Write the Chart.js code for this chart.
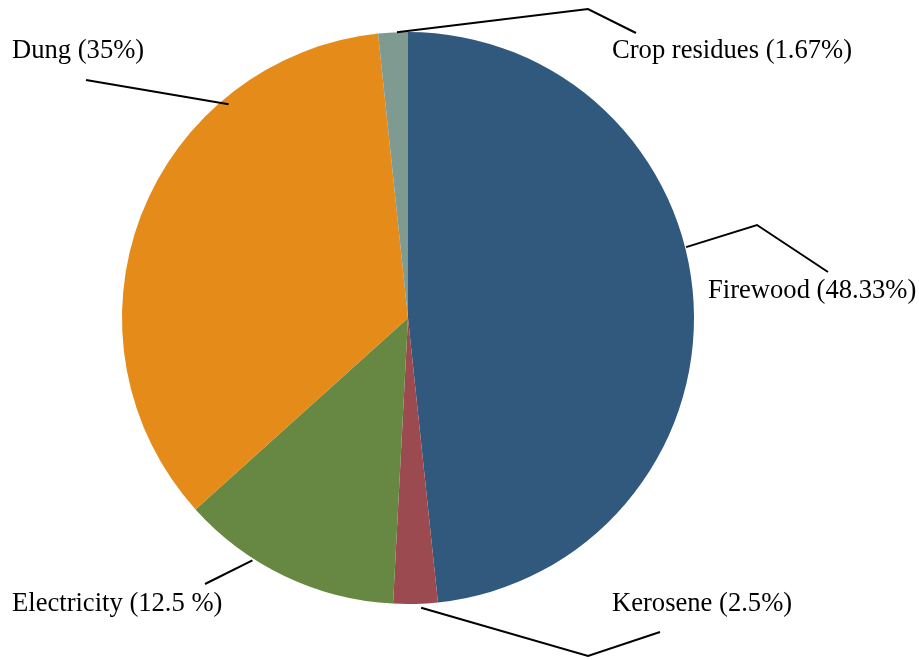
<!DOCTYPE html>
<html>
<head>
<meta charset="utf-8">
<script src="https://cdn.jsdelivr.net/npm/chart.js@4.4.0/dist/chart.umd.min.js"></script>
<style>
    html, body { margin: 0; padding: 0; background: #fff; }
    #wrap { width: 919px; height: 660px; position: relative; }
</style>
</head>
<body>
<div id="wrap"><canvas id="energyChart"></canvas></div>
<script>
// Household cooking fuel shares (%)
const categories = ['Firewood', 'Kerosene', 'Electricity', 'Dung', 'Crop residues'];
const shares = [48.33, 2.5, 12.5, 35, 1.67];
const labelTexts = ['Firewood (48.33%)', 'Kerosene (2.5%)', 'Electricity (12.5 %)', 'Dung (35%)', 'Crop residues (1.67%)'];
const sliceColors = ['#31597d', '#9b4a50', '#678842', '#e58b1a', '#7f9b91'];

// leader line layout: anchor angle on the rim (deg clockwise from top),
// radial offset from the rim, elbow / end points and text position (canvas px)
const leaderLayout = [
    { anchor: 75.7, off: 1, pts: [[757, 225], [828, 272]], text: [708, 298] },
    { anchor: 177.4, off: 4, pts: [[588, 656], [660, 632]], text: [612, 611] },
    { anchor: 212.7, off: 2, pts: [[205, 584]], text: [12, 611] },
    { anchor: 320, off: -7, pts: [[86, 80]], text: [12, 58] },
    { anchor: 357.8, off: 0, pts: [[588, 9], [636, 33]], text: [612, 58] }
];

const leaderPlugin = {
    id: 'leaders',
    afterDatasetsDraw(chart) {
        const ctx = chart.ctx;
        const arc = chart.getDatasetMeta(0).data[0];
        const cx = arc.x, cy = arc.y, r = arc.outerRadius;
        ctx.save();
        ctx.strokeStyle = '#000';
        ctx.lineWidth = 2;
        ctx.fillStyle = '#000';
        ctx.font = '26.6px "Liberation Serif", "Times New Roman", serif';
        ctx.textBaseline = 'alphabetic';
        ctx.textAlign = 'left';
        leaderLayout.forEach((l, i) => {
            const a = l.anchor * Math.PI / 180;
            const rr = r + l.off;
            ctx.beginPath();
            ctx.moveTo(cx + rr * Math.sin(a), cy - rr * Math.cos(a));
            l.pts.forEach(p => ctx.lineTo(p[0], p[1]));
            ctx.stroke();
            ctx.fillText(labelTexts[i], l.text[0], l.text[1]);
        });
        ctx.restore();
    }
};

new Chart(document.getElementById('energyChart'), {
    type: 'pie',
    data: {
        labels: categories,
        datasets: [{
            data: shares,
            backgroundColor: sliceColors,
            borderWidth: 0
        }]
    },
    options: {
        responsive: true,
        maintainAspectRatio: false,
        animation: false,
        layout: { padding: { left: 122, right: 225, top: 32, bottom: 56 } },
        plugins: {
            legend: { display: false },
            tooltip: { enabled: false }
        }
    },
    plugins: [leaderPlugin]
});
</script>
</body>
</html>
